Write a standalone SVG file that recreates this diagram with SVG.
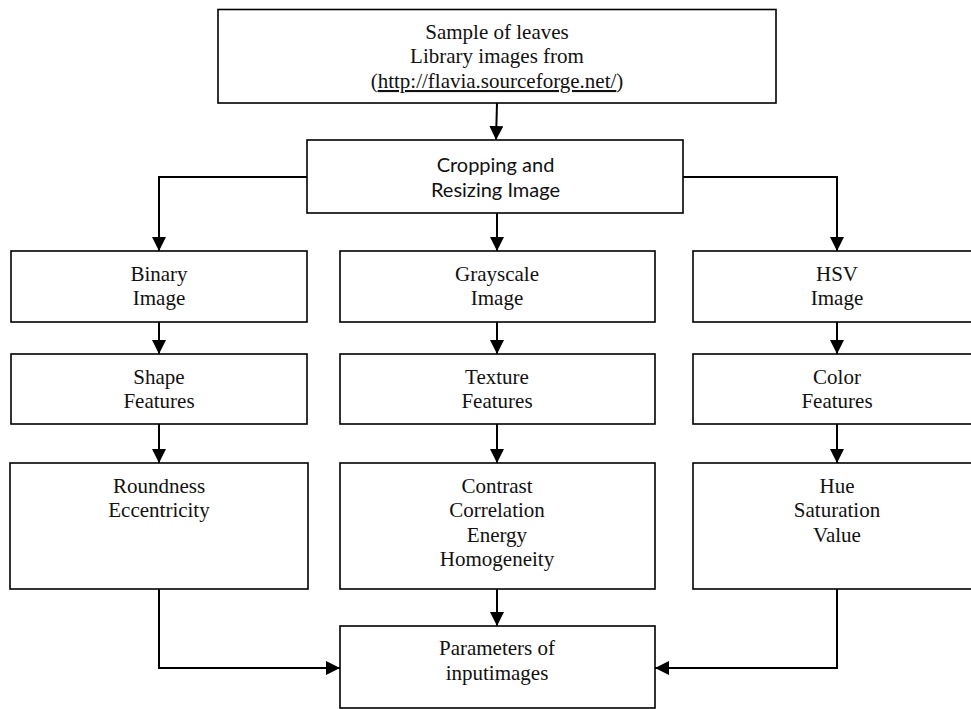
<svg xmlns="http://www.w3.org/2000/svg" width="971" height="709" viewBox="0 0 971 709">
<defs>
<marker id="ah" markerUnits="userSpaceOnUse" markerWidth="15" markerHeight="15" refX="14" refY="7" orient="auto">
<path d="M0,0 L14,7 L0,14 z" fill="#000"/>
</marker>
<style>
.box{fill:#fff;stroke:#000;stroke-width:1.6}
.t{font-family:"Liberation Serif","Times New Roman",serif;font-size:21px;fill:#111;text-anchor:middle}
.s{font-family:Lato,"Liberation Sans",sans-serif;font-size:20px;fill:#111;text-anchor:middle}
.c{fill:none;stroke:#000;stroke-width:2;marker-end:url(#ah)}
</style>
</defs>
<rect width="971" height="709" fill="#fff"/>
<g id="connectors">
<path class="c" d="M497,103 L496,140"/>
<path class="c" d="M307,177 L159,177 L159,251"/>
<path class="c" d="M683,177 L837,177 L837,251"/>
<path class="c" d="M497,213 L497,251"/>
<path class="c" d="M159,322 L159,354"/>
<path class="c" d="M497,322 L497,354"/>
<path class="c" d="M837,322 L837,354"/>
<path class="c" d="M159,424 L159,463"/>
<path class="c" d="M497,424 L497,463"/>
<path class="c" d="M837,424 L837,463"/>
<path class="c" d="M497,589 L497,626"/>
<path class="c" d="M159,589 L159,668 L340,668"/>
<path class="c" d="M837,589 L837,668 L655,668"/>
</g>
<g id="sample">
<rect class="box" x="218" y="9.5" width="558" height="93.5"/>
<text class="t" x="497" y="39">Sample of leaves</text>
<text class="t" x="497" y="63">Library images from</text>
<text class="t" x="497" y="88">(<tspan text-decoration="underline">http://flavia.sourceforge.net/</tspan>)</text>
</g>
<g id="crop">
<rect class="box" x="307" y="140" width="376" height="73"/>
<text class="s" x="495.5" y="172">Cropping and</text>
<text class="s" x="495.5" y="197">Resizing Image</text>
</g>
<g id="binary">
<rect class="box" x="11" y="251" width="296" height="71"/>
<text class="t" x="159" y="281">Binary</text>
<text class="t" x="159" y="305">Image</text>
</g>
<g id="grayscale">
<rect class="box" x="340" y="251" width="315" height="71"/>
<text class="t" x="497" y="281">Grayscale</text>
<text class="t" x="497" y="305">Image</text>
</g>
<g id="hsv">
<rect class="box" x="693" y="251" width="296" height="71"/>
<text class="t" x="837" y="281">HSV</text>
<text class="t" x="837" y="305">Image</text>
</g>
<g id="shape">
<rect class="box" x="11" y="354" width="296" height="70"/>
<text class="t" x="159" y="384">Shape</text>
<text class="t" x="159" y="408">Features</text>
</g>
<g id="texture">
<rect class="box" x="340" y="354" width="315" height="70"/>
<text class="t" x="497" y="384">Texture</text>
<text class="t" x="497" y="408">Features</text>
</g>
<g id="color">
<rect class="box" x="693" y="354" width="296" height="70"/>
<text class="t" x="837" y="384">Color</text>
<text class="t" x="837" y="408">Features</text>
</g>
<g id="shapefeat">
<rect class="box" x="10" y="463" width="298" height="126"/>
<text class="t" x="159" y="493">Roundness</text>
<text class="t" x="159" y="517">Eccentricity</text>
</g>
<g id="texturefeat">
<rect class="box" x="340" y="463" width="315" height="126"/>
<text class="t" x="497" y="493">Contrast</text>
<text class="t" x="497" y="517">Correlation</text>
<text class="t" x="497" y="542">Energy</text>
<text class="t" x="497" y="566">Homogeneity</text>
</g>
<g id="colorfeat">
<rect class="box" x="693" y="463" width="296" height="126"/>
<text class="t" x="837" y="493">Hue</text>
<text class="t" x="837" y="517">Saturation</text>
<text class="t" x="837" y="542">Value</text>
</g>
<g id="params">
<rect class="box" x="340" y="626" width="315" height="82"/>
<text class="t" x="497" y="655">Parameters of</text>
<text class="t" x="497" y="680">inputimages</text>
</g>
</svg>
